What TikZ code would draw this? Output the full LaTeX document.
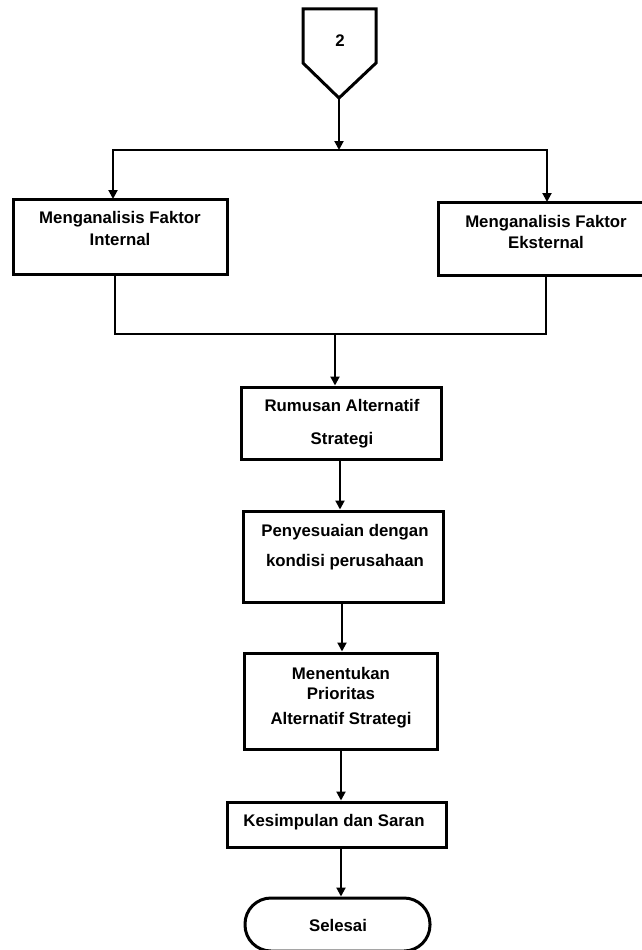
\documentclass[tikz,border=0pt]{standalone}
\usepackage{fontspec}
\setmainfont{Liberation Sans}
\usetikzlibrary{arrows.meta}
\begin{document}
\begin{tikzpicture}[x=1pt,y=-1pt,
  box/.style={draw=black,line width=3pt,rectangle,inner sep=0pt},
  conn/.style={draw=black,line width=2pt},
  arr/.style={conn,-{Triangle[length=9pt,width=9pt]}},
  lbl/.style={inner sep=0pt,anchor=base,font=\fontsize{16.8}{20}\selectfont\bfseries}]
\useasboundingbox (0,0) rectangle (641,950);
\fill[white] (0,0) rectangle (641,950);
% off-page connector
\draw[line width=3pt,line join=miter] (303,9) -- (376,9) -- (376,63) -- (339,98) -- (303,63) -- cycle;
\node[lbl] (two) at (340,47) {2};
\coordinate (offtip) at (339,98);
\coordinate (j1) at (339,150);
\coordinate (lt) at (113,199);
\coordinate (rt) at (547,202);
% boxes
\node[box,minimum width=214pt,minimum height=75pt] (lbox) at (120,236.5) {};
\node[box,minimum width=222pt,minimum height=73pt] (rbox) at (549,238.5) {};
\node[box,minimum width=200pt,minimum height=72pt] (rum) at (341,423) {};
\node[box,minimum width=200pt,minimum height=91pt] (pen) at (343,556.5) {};
\node[box,minimum width=193pt,minimum height=96pt] (men) at (340.5,701) {};
\node[box,minimum width=219pt,minimum height=45pt] (kes) at (336.5,824.5) {};
\node[box,rounded corners=26pt,minimum width=185pt,minimum height=53pt] (sel) at (337.5,924.5) {};
% texts
\node[lbl] (t1a) at (120,223) {Menganalisis Faktor};
\node[lbl] (t1b) at (120,245) {Internal};
\node[lbl] (t2a) at (546,227) {Menganalisis Faktor};
\node[lbl] (t2b) at (546,248) {Eksternal};
\node[lbl] (t3a) at (342,411) {Rumusan Alternatif};
\node[lbl] (t3b) at (342,444) {Strategi};
\node[lbl] (t4a) at (345,536) {Penyesuaian dengan};
\node[lbl] (t4b) at (345,566) {kondisi perusahaan};
\node[lbl] (t5a) at (341,679) {Menentukan};
\node[lbl] (t5b) at (341,699) {Prioritas};
\node[lbl] (t5c) at (341,724) {Alternatif Strategi};
\node[lbl] (t6) at (334,826) {Kesimpulan dan Saran};
\node[lbl] (t7) at (338,931) {Selesai};
% connectors
\draw[arr] (offtip) -- (j1);
\draw[arr] (j1) -| (lt);
\draw[arr] (j1) -| (rt);
\coordinate (lb) at (115,274);
\coordinate (rb) at (546,275);
\coordinate (j2) at (335,334);
\draw[conn] (lb) |- (j2);
\draw[conn] (rb) |- (j2);
\draw[arr] (j2) -- (j2 |- rum.north);
\draw[arr] (340,0 |- rum.south) -- (340,0 |- pen.north);
\draw[arr] (342,0 |- pen.south) -- (342,0 |- men.north);
\draw[arr] (341,0 |- men.south) -- (341,0 |- kes.north);
\draw[arr] (341,0 |- kes.south) -- (341,0 |- sel.north);
\end{tikzpicture}
\end{document}
